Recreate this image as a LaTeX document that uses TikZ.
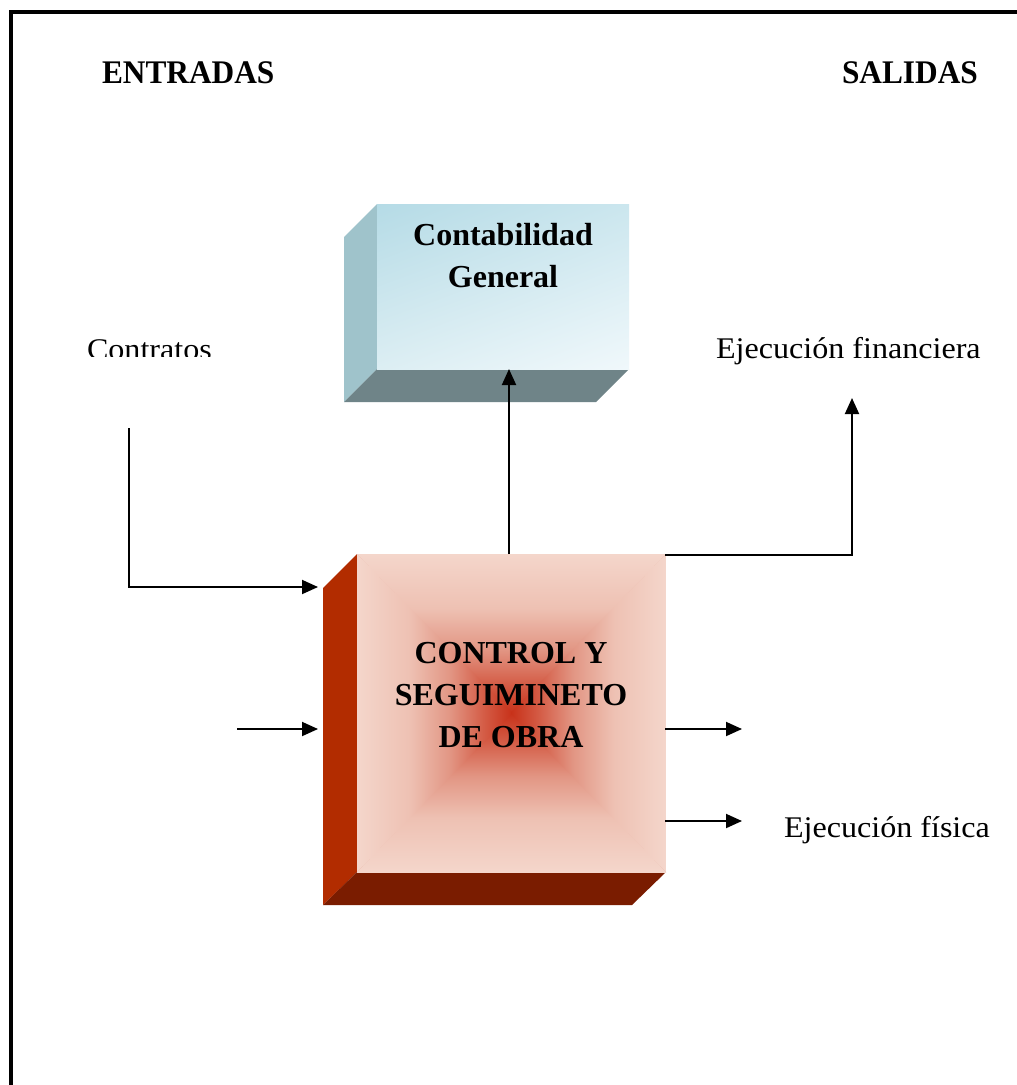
\documentclass[tikz,border=0pt]{standalone}
\usepackage{fontspec}
\setmainfont{Liberation Serif}
\usepackage{graphicx}
\usetikzlibrary{arrows.meta,shadings}
\definecolor{re}{HTML}{F4D6CB}
\definecolor{rm3}{HTML}{EEC1B3}
\definecolor{rm2}{HTML}{E29684}
\definecolor{rm1}{HTML}{D45C46}
\definecolor{rc}{HTML}{C8321A}
\definecolor{redside}{HTML}{B22C00}
\definecolor{redbottom}{HTML}{7A1C00}
\definecolor{bTL}{HTML}{B5DBE6}
\definecolor{bTR}{HTML}{CBE6EE}
\definecolor{bBL}{HTML}{DCEEF3}
\definecolor{bBR}{HTML}{F0F8FB}
\definecolor{blueside}{HTML}{9FC3CB}
\definecolor{bluebottom}{HTML}{6F8488}
\pgfdeclareverticalshading{rfade}{100bp}{color(0bp)=(rc); color(25bp)=(rc); color(34bp)=(rm1); color(45bp)=(rm2); color(58bp)=(rm3); color(75bp)=(re); color(100bp)=(re)}
\newcommand\regtxt[1]{\scalebox{1.07}[1]{\fontsize{30}{36}\selectfont #1}}
\newcommand\bldtxt[1]{{\fontsize{32}{40}\selectfont\bfseries #1}}
\newcommand\headtxt[1]{\scalebox{0.95}[1]{\fontsize{33}{40}\selectfont\bfseries #1}}
\tikzset{
  arr/.style={line width=1.9pt, -{Triangle[length=16pt,width=14pt]}},
  lbl/.style={inner sep=0pt, outer sep=0pt},
  face/.style={inner sep=0pt, outer sep=0pt, draw=none}
}
\begin{document}
\begin{tikzpicture}[x=1pt,y=-1pt]
\useasboundingbox (0,0) rectangle (1017,1085);
\fill[white] (0,0) rectangle (1017,1085);
% frame
\draw[line width=4pt, line join=miter] (11,1085) -- (11,12) -- (1017,12);
% headings
\node[lbl, anchor=base west] (ent) at (102,83) {\headtxt{ENTRADAS}};
\node[lbl, anchor=base west] (sal) at (842,83) {\headtxt{SALIDAS}};
% ---- Contabilidad General box
\fill[blueside] (344,237) -- (377,204) -- (377,369) -- (344,402) -- cycle;
\fill[bluebottom] (377,369) -- (629,369) -- (596,402) -- (344,402) -- cycle;
\shade[upper left=bTL, upper right=bTR, lower left=bBL, lower right=bBR] (377,204) rectangle (629,369);
\node[face, minimum width=252pt, minimum height=165pt, anchor=north west] (cg) at (377,204) {};
\node[lbl, anchor=base] (cgA) at (503,245) {\bldtxt{Contabilidad}};
\node[lbl, anchor=base] (cgB) at (503,287) {\bldtxt{General}};
% ---- Control box
\fill[redside] (323,588) -- (357,554) -- (357,872) -- (323,905) -- cycle;
\fill[redbottom] (357,872) -- (666,872) -- (632,905) -- (323,905) -- cycle;
\fill[rm2] (357,554) rectangle (666,872);
\begin{scope}
  \clip (356,553) -- (667,553) -- (511.5,714.5) -- cycle;
  \shade[shading=rfade, shading angle=0] (357,554) rectangle (666,713);
\end{scope}
\begin{scope}
  \clip (356,873) -- (667,873) -- (511.5,711.5) -- cycle;
  \shade[shading=rfade, shading angle=180] (357,713) rectangle (666,872);
\end{scope}
\begin{scope}
  \clip (357,554) -- (512.5,713) -- (357,872) -- cycle;
  \shade[shading=rfade, shading angle=90] (357,554) rectangle (511.5,872);
\end{scope}
\begin{scope}
  \clip (666,554) -- (510.5,713) -- (666,872) -- cycle;
  \shade[shading=rfade, shading angle=270] (511.5,554) rectangle (666,872);
\end{scope}
\node[face, minimum width=309pt, minimum height=318pt, anchor=north west] (ctrl) at (357,554) {};
\node[lbl, anchor=base] (ct1) at (511,663) {\bldtxt{CONTROL Y}};
\node[lbl, anchor=base] (ct2) at (511,705) {\bldtxt{SEGUIMINETO}};
\node[lbl, anchor=base] (ct3) at (511,747) {\bldtxt{DE OBRA}};
% ---- side labels
\begin{scope}
  \clip (60,320) rectangle (240,356);
  \node[lbl, anchor=base west] (contr) at (87,359) {\regtxt{Contratos}};
\end{scope}
\node[lbl, anchor=base west] (efin) at (716,358) {\regtxt{Ejecución financiera}};
\node[lbl, anchor=base west] (efis) at (784,837) {\regtxt{Ejecución física}};
% ---- connectors
\coordinate (cA) at (129,428);
\coordinate (tA) at (318,587);
\coordinate (sB) at (237,729);
\coordinate (tB) at (318,729);
\coordinate (sC) at (509,554);
\coordinate (tC) at (509,369);
\coordinate (sD) at (665,555);
\coordinate (tD) at (852,398);
\coordinate (sE) at (665,729);
\coordinate (tE) at (742,729);
\coordinate (sF) at (665,821);
\coordinate (tF) at (742,821);
\draw[arr] (cA) |- (tA);
\draw[arr] (sB) -- (tB);
\draw[arr] (sC) -- (tC);
\draw[arr] (sD) -| (tD);
\draw[arr] (sE) -- (tE);
\draw[arr] (sF) -- (tF);
\end{tikzpicture}
\end{document}
